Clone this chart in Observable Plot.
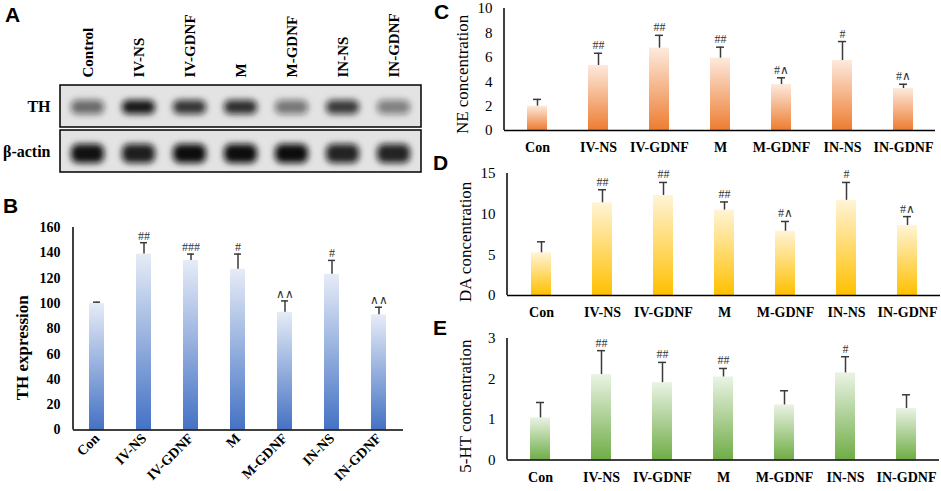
<!DOCTYPE html>
<html>
<head>
<meta charset="utf-8">
<script src="https://cdn.jsdelivr.net/npm/d3@7"></script>
<script src="https://cdn.jsdelivr.net/npm/@observablehq/plot@0.6"></script>
<style>
  html, body { margin: 0; padding: 0; background: #fff; }
  #fig { position: relative; width: 941px; height: 491px; background: #fff; overflow: hidden; }
  .panel { position: absolute; }
  .letter { position: absolute; font-family: 'Liberation Sans', Arial, sans-serif; font-weight: bold; font-size: 21px; line-height: 1; color: #000; }
</style>
</head>
<body>
<div id="fig">
  <div class="letter" style="left:5px;top:4px">A</div>
  <div class="letter" style="left:3px;top:195px">B</div>
  <div class="letter" style="left:434px;top:1px">C</div>
  <div class="letter" style="left:433px;top:152px">D</div>
  <div class="letter" style="left:433px;top:317px">E</div>
</div>
<script>
// ---------- data ----------
const lanes = ["Control", "IV-NS", "IV-GDNF", "M", "M-GDNF", "IN-NS", "IN-GDNF"];
const blotRows = ["TH", "β-actin"];
const thBand = [0.58, 0.95, 0.82, 0.85, 0.52, 0.8, 0.48];
const actinBand = [0.98, 0.92, 1.0, 1.0, 1.00, 0.9, 0.9];

const groups = ["Con", "IV-NS", "IV-GDNF", "M", "M-GDNF", "IN-NS", "IN-GDNF"];

const thMean = [100, 139, 134, 127, 93, 123, 91];
const thErr = [1, 9, 5, 12, 9, 11, 6];
const thSig = ["", "##", "###", "#", "∧∧", "#", "∧∧"];
const thTicks = [0, 20, 40, 60, 80, 100, 120, 140, 160];

const neMean = [2.0, 5.33, 6.75, 5.93, 3.77, 5.74, 3.44];
const neErr = [0.55, 1.0, 1.05, 0.9, 0.55, 1.55, 0.35];
const neSig = ["", "##", "##", "##", "#∧", "#", "#∧"];
const neTicks = [0, 2, 4, 6, 8, 10];

const daMean = [5.25, 11.4, 12.3, 10.5, 7.9, 11.7, 8.6];
const daErr = [1.35, 1.6, 1.6, 1.0, 1.2, 2.2, 1.1];
const daSig = ["", "##", "##", "##", "#∧", "#", "#∧"];
const daTicks = [0, 5, 10, 15];

const htMean = [1.04, 2.11, 1.91, 2.05, 1.36, 2.15, 1.27];
const htErr = [0.38, 0.59, 0.50, 0.21, 0.35, 0.40, 0.34];
const htSig = ["", "##", "##", "##", "", "#", ""];
const htTicks = [0, 1, 2, 3];

// ---------- helpers ----------
const SERIF = "'Liberation Serif', 'Times New Roman', serif";
const fig = document.getElementById("fig");

function place(node, left, top) {
  const d = document.createElement("div");
  d.className = "panel";
  d.style.left = left + "px";
  d.style.top = top + "px";
  d.appendChild(node);
  fig.appendChild(d);
}

function gradDefs(id, top, bottom) {
  return () => {
    const defs = d3.create("svg:defs");
    const lg = defs.append("linearGradient").attr("id", id)
      .attr("x1", 0).attr("y1", 0).attr("x2", 0).attr("y2", 1);
    lg.append("stop").attr("offset", "0%").attr("stop-color", top);
    lg.append("stop").attr("offset", "100%").attr("stop-color", bottom);
    return defs.node();
  };
}

function yLine() {
  return (index, scales, values, dims) => {
    return d3.create("svg:line")
      .attr("x1", dims.marginLeft).attr("x2", dims.marginLeft)
      .attr("y1", dims.marginTop).attr("y2", dims.height - dims.marginBottom)
      .attr("stroke", "#000").attr("stroke-width", 1.5).node();
  };
}

function rows(mean, err, sig) {
  return groups.map((g, i) => ({g, mean: mean[i], top: mean[i] + err[i], sig: sig[i]}));
}

// ---------- Panel A: western blot ----------
const thData = lanes.map((l, i) => ({lane: l, v: thBand[i]}));
const actinData = lanes.map((l, i) => ({lane: l, v: actinBand[i]}));
const plotA = Plot.plot({
  width: 430, height: 180,
  marginLeft: 60, marginRight: 9, marginTop: 85, marginBottom: 8,
  style: {fontFamily: SERIF, background: "transparent", color: "#000"},
  x: {domain: lanes, padding: 0},
  y: {domain: blotRows, paddingInner: 0.07, paddingOuter: 0},
  marks: [
    () => {
      const defs = d3.create("svg:defs");
      defs.append("filter").attr("id", "blotBlur").attr("x", "-50%").attr("y", "-100%").attr("width", "200%").attr("height", "300%")
        .append("feGaussianBlur").attr("stdDeviation", 3);
      return defs.node();
    },
    Plot.cell(blotRows, {y: d => d, fill: "#e3e3e3", stroke: "#000", strokeWidth: 1.5}),
    Plot.cell(thData, {x: "lane", y: () => "TH", fill: "#111", fillOpacity: "v",
      insetLeft: 9, insetRight: 9, insetTop: 15, insetBottom: 13, rx: 6, ariaLabel: () => "blot-band"}),
    Plot.cell(actinData, {x: "lane", y: () => "β-actin", fill: "#0a0a0a", fillOpacity: "v",
      insetLeft: 9, insetRight: 9, insetTop: 14, insetBottom: 9, rx: 7, ariaLabel: () => "blot-band"}),
    Plot.axisX({anchor: "top", tickSize: 0, tickPadding: 8, tickRotate: -90, label: null,
      fontWeight: "bold", fontSize: 15}),
    Plot.axisY({anchor: "left", tickSize: 0, tickPadding: 10, label: null,
      fontWeight: "bold", fontSize: 16})
  ]
});
plotA.querySelectorAll('[aria-label="blot-band"]').forEach(el => el.setAttribute("filter", "url(#blotBlur)"));
place(plotA, 0, 0);

// ---------- Panel B: TH expression ----------
const dataB = rows(thMean, thErr, thSig);
const plotB = Plot.plot({
  width: 420, height: 276,
  marginLeft: 73, marginRight: 17, marginTop: 12, marginBottom: 61.5,
  style: {fontFamily: SERIF, background: "transparent", color: "#000"},
  x: {domain: groups, paddingInner: 0.68, paddingOuter: 0.31},
  y: {domain: [0, 160]},
  marks: [
    gradDefs("gradB", "#e6ecf7", "#4472c4"),
    Plot.barY(dataB, {x: "g", y: "mean", fill: "url(#gradB)"}),
    Plot.ruleX(dataB, {x: "g", y1: "mean", y2: "top", stroke: "#3a3a3a", strokeWidth: 1.5}),
    Plot.tickY(dataB, {x: "g", y: "top", stroke: "#3a3a3a", strokeWidth: 1.5, insetLeft: 4, insetRight: 4}),
    Plot.text(dataB, {x: "g", y: "top", text: "sig", lineAnchor: "bottom", dy: -3, fontSize: 12, fill: "#333"}),
    Plot.ruleY([0], {stroke: "#000", strokeWidth: 1.5}),
    yLine(),
    Plot.axisX({tickSize: 0, tickPadding: 6, tickRotate: -45, label: null, fontWeight: "bold", fontSize: 14}),
    Plot.axisY({ticks: thTicks, tickFormat: d3.format("d"), tickSize: 0, tickPadding: 13, label: null, fontWeight: "bold", fontSize: 14}),
    Plot.text(["TH expression"], {text: d => d, frameAnchor: "left", textAnchor: "middle", y: () => 65, rotate: -90, dx: -51,
      fontWeight: "bold", fontSize: 17})
  ]
});
place(plotB, 0, 215);

// ---------- Panels C, D, E ----------
function concPanel({data, domain, ticks, grad, gid, label, labelY, width, height, mt, mb, ml, mr}) {
  return Plot.plot({
    width, height,
    marginLeft: ml, marginRight: mr, marginTop: mt, marginBottom: mb,
    style: {fontFamily: SERIF, background: "transparent", color: "#000"},
    x: {domain: groups, paddingInner: 0.676, paddingOuter: 0.337},
    y: {domain},
    marks: [
      gradDefs(gid, grad[0], grad[1]),
      Plot.barY(data, {x: "g", y: "mean", fill: `url(#${gid})`}),
      Plot.ruleX(data, {x: "g", y1: "mean", y2: "top", stroke: "#3a3a3a", strokeWidth: 1.5}),
      Plot.tickY(data, {x: "g", y: "top", stroke: "#3a3a3a", strokeWidth: 1.5, insetLeft: 6, insetRight: 6}),
      Plot.text(data, {x: "g", y: "top", text: "sig", lineAnchor: "bottom", dy: -4, fontSize: 12, fill: "#333"}),
      Plot.ruleY([0], {stroke: "#000", strokeWidth: 1.5}),
      yLine(),
      Plot.axisX({tickSize: 0, tickPadding: 12, label: null, fontWeight: "bold", fontSize: 14}),
      Plot.axisY({ticks, tickFormat: d3.format("d"), tickSize: 0, tickPadding: 12, label: null, fontSize: 15}),
      Plot.text([label], {text: d => d, frameAnchor: "left", textAnchor: "middle", y: () => labelY, rotate: -90, dx: -42, fontSize: 17})
    ]
  });
}

place(concPanel({data: rows(neMean, neErr, neSig), domain: [0, 10], ticks: neTicks,
  grad: ["#fdeade", "#ed7d31"], gid: "gradC", label: "NE concentration", labelY: 4.6,
  width: 521, height: 160, mt: 8, mb: 30, ml: 84, mr: 6}), 420, 0);

place(concPanel({data: rows(daMean, daErr, daSig), domain: [0, 15], ticks: daTicks,
  grad: ["#fff4d6", "#ffc000"], gid: "gradD", label: "DA concentration", labelY: 6.6,
  width: 521, height: 160, mt: 13, mb: 25, ml: 87, mr: 1}), 420, 160);

place(concPanel({data: rows(htMean, htErr, htSig), domain: [0, 3], ticks: htTicks,
  grad: ["#eaf3e4", "#70ad47"], gid: "gradE", label: "5-HT concentration", labelY: 1.33,
  width: 521, height: 171, mt: 18, mb: 31.5, ml: 87, mr: 2}), 420, 320);
</script>
</body>
</html>
